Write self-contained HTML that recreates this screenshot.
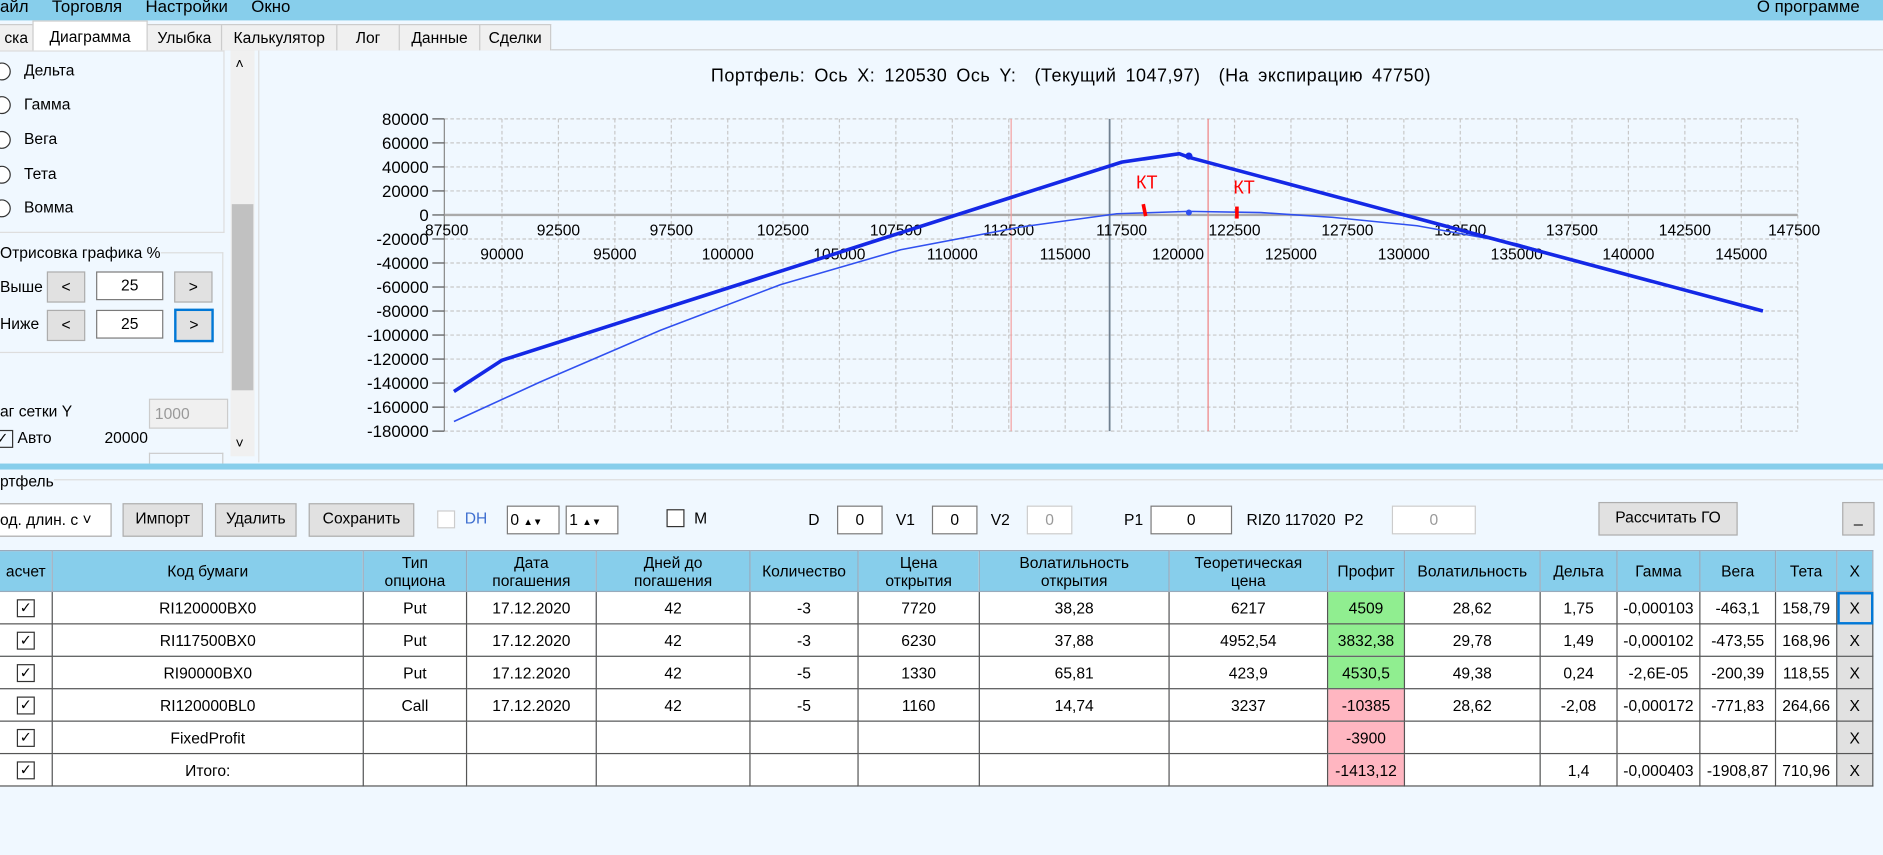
<!DOCTYPE html>
<html><head><meta charset="utf-8"><style>
html,body{margin:0;padding:0;overflow:hidden;background:#f0f8ff}
#w{position:absolute;left:0;top:0;width:1568px;height:712px;transform:scale(1.20089);transform-origin:0 0;font-family:"Liberation Sans","DejaVu Sans",sans-serif;font-size:13px;color:#000;background:#f0f8ff}
.a{position:absolute;white-space:nowrap}
.tab{position:absolute;top:20px;height:21px;border:1px solid #ccc;border-bottom:none;background:#f0f0f0;font-size:13px;line-height:21px;text-align:center}
.btn{position:absolute;background:#e1e1e1;border:1px solid #adadad;text-align:center;line-height:24px;height:24px}
.box{position:absolute;background:#fff;border:1px solid #7a7a7a;text-align:center;height:22px;line-height:22px}
table{position:absolute;left:-1px;top:458px;border-collapse:collapse;table-layout:fixed;font-size:13px}
td{border:1px solid #555;text-align:center;height:26px;padding:0;overflow:hidden;white-space:nowrap;background:#fff}
tr.h td{background:#87ceeb;height:33px;line-height:15px;border-color:#9ab}
.g{background:#90ee90!important}.r{background:#ffb6c1!important}
.cb{display:inline-block;width:13px;height:13px;border:1px solid #333;vertical-align:middle;font-size:12px;line-height:13px}
.rad{position:absolute;left:-6px;width:13px;height:13px;border:1px solid #333;border-radius:50%;background:#fff}
</style></head><body><div id="w">
<div class="a" style="left:0;top:0;width:1568px;height:17px;background:#87ceeb"></div>
<div class="a" style="left:0;top:-3px;font-size:14px">айл &nbsp;&nbsp;&nbsp;&nbsp;Торговля &nbsp;&nbsp;&nbsp;&nbsp;Настройки &nbsp;&nbsp;&nbsp;&nbsp;Окно</div>
<div class="a" style="left:1463px;top:-3px;font-size:14px">О программе</div>
<div class="a" style="left:0;top:41px;width:1568px;height:1px;background:#ccc"></div>
<div class="tab" style="left:-1px;width:27px">ска</div>
<div class="tab" style="left:27px;width:94px;top:17px;height:25px;background:#fff;line-height:25px">Диаграмма</div>
<div class="tab" style="left:122px;width:61px">Улыбка</div>
<div class="tab" style="left:184px;width:95px">Калькулятор</div>
<div class="tab" style="left:280px;width:51px">Лог</div>
<div class="tab" style="left:332px;width:66px">Данные</div>
<div class="tab" style="left:399px;width:58px">Сделки</div>
<div class="a" style="left:0;top:42px;width:186px;height:150px;border:1px solid #ddd;border-left:none;background:#f0f8ff"></div>
<div class="rad" style="top:52px"></div><div class="a" style="left:20px;top:51px">Дельта</div>
<div class="rad" style="top:80px"></div><div class="a" style="left:20px;top:79px">Гамма</div>
<div class="rad" style="top:109px"></div><div class="a" style="left:20px;top:108px">Вега</div>
<div class="rad" style="top:138px"></div><div class="a" style="left:20px;top:137px">Тета</div>
<div class="rad" style="top:166px"></div><div class="a" style="left:20px;top:165px">Вомма</div>
<div class="a" style="left:192px;top:42px;width:20px;height:338px;background:#f0f0f0"></div>
<div class="a" style="left:193px;top:170px;width:18px;height:155px;background:#c1c1c1"></div>
<div class="a" style="left:196px;top:46px;font-size:12px">&#708;</div>
<div class="a" style="left:196px;top:362px;font-size:12px">&#709;</div>
<div class="a" style="left:0;top:210px;width:185px;height:82px;border:1px solid #ddd;border-left:none"></div>
<div class="a" style="left:0;top:203px;background:#f0f8ff">Отрисовка графика %</div>
<div class="a" style="left:0;top:231px">Выше</div>
<div class="btn" style="left:39px;top:226px;width:30px">&lt;</div>
<div class="box" style="left:80px;top:226px;width:54px">25</div>
<div class="btn" style="left:145px;top:226px;width:30px">&gt;</div>
<div class="a" style="left:0;top:262px">Ниже</div>
<div class="btn" style="left:39px;top:258px;width:30px">&lt;</div>
<div class="box" style="left:80px;top:258px;width:54px">25</div>
<div class="btn" style="left:145px;top:257px;width:29px;border:2px solid #0078d7">&gt;</div>
<div class="a" style="left:0;top:335px">аг сетки Y</div>
<div class="a" style="left:124px;top:332px;width:60px;height:23px;border:1px solid #ccc;background:#f0f0f0;color:#999;line-height:23px;padding-left:4px">1000</div>
<div class="a" style="left:-4px;top:357px"><span class="cb">&#10003;</span> Авто</div>
<div class="a" style="left:87px;top:357px">20000</div>
<div class="a" style="left:124px;top:377px;width:60px;height:8px;border:1px solid #ccc;border-bottom:none"></div>
<div class="a" style="left:215px;top:42px;width:1353px;height:343px;background:#f0f8ff;border-left:1px solid #ddd"></div>
<div class="a" style="left:592px;top:55px;font-size:15px;letter-spacing:0.4px;word-spacing:3px">Портфель: Ось X: 120530 Ось Y: &nbsp;(Текущий 1047,97) &nbsp;(На экспирацию 47750)</div>
<svg class="a" style="left:0;top:0" width="1568" height="390" font-family="Liberation Sans,sans-serif" font-size="13">
<g stroke="#c8c8c8" stroke-dasharray="3,2" stroke-width="1">
<line x1="370" y1="99" x2="1497" y2="99"/><line x1="370" y1="119" x2="1497" y2="119"/><line x1="370" y1="139" x2="1497" y2="139"/><line x1="370" y1="159" x2="1497" y2="159"/><line x1="370" y1="199" x2="1497" y2="199"/><line x1="370" y1="219" x2="1497" y2="219"/><line x1="370" y1="239" x2="1497" y2="239"/><line x1="370" y1="259" x2="1497" y2="259"/><line x1="370" y1="279" x2="1497" y2="279"/><line x1="370" y1="299" x2="1497" y2="299"/><line x1="370" y1="319" x2="1497" y2="319"/><line x1="370" y1="339" x2="1497" y2="339"/><line x1="370" y1="359" x2="1497" y2="359"/>
<line x1="418" y1="99" x2="418" y2="359"/><line x1="465" y1="99" x2="465" y2="359"/><line x1="512" y1="99" x2="512" y2="359"/><line x1="559" y1="99" x2="559" y2="359"/><line x1="606" y1="99" x2="606" y2="359"/><line x1="652" y1="99" x2="652" y2="359"/><line x1="699" y1="99" x2="699" y2="359"/><line x1="746" y1="99" x2="746" y2="359"/><line x1="793" y1="99" x2="793" y2="359"/><line x1="840" y1="99" x2="840" y2="359"/><line x1="887" y1="99" x2="887" y2="359"/><line x1="934" y1="99" x2="934" y2="359"/><line x1="981" y1="99" x2="981" y2="359"/><line x1="1028" y1="99" x2="1028" y2="359"/><line x1="1075" y1="99" x2="1075" y2="359"/><line x1="1122" y1="99" x2="1122" y2="359"/><line x1="1169" y1="99" x2="1169" y2="359"/><line x1="1216" y1="99" x2="1216" y2="359"/><line x1="1263" y1="99" x2="1263" y2="359"/><line x1="1309" y1="99" x2="1309" y2="359"/><line x1="1356" y1="99" x2="1356" y2="359"/><line x1="1403" y1="99" x2="1403" y2="359"/><line x1="1450" y1="99" x2="1450" y2="359"/><line x1="1497" y1="99" x2="1497" y2="359"/>
</g>
<line x1="370" y1="99" x2="370" y2="359" stroke="#888"/>
<line x1="370" y1="179" x2="1497" y2="179" stroke="#aaa" stroke-width="2"/>
<line x1="842" y1="99" x2="842" y2="359" stroke="#f4a0a0"/>
<line x1="924" y1="99" x2="924" y2="359" stroke="#708090" stroke-width="1.5"/>
<line x1="1006" y1="99" x2="1006" y2="359" stroke="#f08080"/>
<g stroke="#555"><line x1="360" y1="99" x2="370" y2="99"/><line x1="360" y1="119" x2="370" y2="119"/><line x1="360" y1="139" x2="370" y2="139"/><line x1="360" y1="159" x2="370" y2="159"/><line x1="360" y1="179" x2="370" y2="179"/><line x1="360" y1="199" x2="370" y2="199"/><line x1="360" y1="219" x2="370" y2="219"/><line x1="360" y1="239" x2="370" y2="239"/><line x1="360" y1="259" x2="370" y2="259"/><line x1="360" y1="279" x2="370" y2="279"/><line x1="360" y1="299" x2="370" y2="299"/><line x1="360" y1="319" x2="370" y2="319"/><line x1="360" y1="339" x2="370" y2="339"/><line x1="360" y1="359" x2="370" y2="359"/></g>
<g text-anchor="end" font-size="14"><text x="357" y="104">80000</text><text x="357" y="124">60000</text><text x="357" y="144">40000</text><text x="357" y="164">20000</text><text x="357" y="184">0</text><text x="357" y="204">-20000</text><text x="357" y="224">-40000</text><text x="357" y="244">-60000</text><text x="357" y="264">-80000</text><text x="357" y="284">-100000</text><text x="357" y="304">-120000</text><text x="357" y="324">-140000</text><text x="357" y="344">-160000</text><text x="357" y="364">-180000</text></g>
<g text-anchor="middle"><text x="372" y="196">87500</text><text x="465" y="196">92500</text><text x="559" y="196">97500</text><text x="652" y="196">102500</text><text x="746" y="196">107500</text><text x="840" y="196">112500</text><text x="934" y="196">117500</text><text x="1028" y="196">122500</text><text x="1122" y="196">127500</text><text x="1216" y="196">132500</text><text x="1309" y="196">137500</text><text x="1403" y="196">142500</text><text x="1494" y="196">147500</text>
<text x="418" y="216">90000</text><text x="512" y="216">95000</text><text x="606" y="216">100000</text><text x="699" y="216">105000</text><text x="793" y="216">110000</text><text x="887" y="216">115000</text><text x="981" y="216">120000</text><text x="1075" y="216">125000</text><text x="1169" y="216">130000</text><text x="1263" y="216">135000</text><text x="1356" y="216">140000</text><text x="1450" y="216">145000</text></g>
<polyline points="378,351 450,318 550,275 650,237 750,208 850,189 930,178 990,176 1050,177 1110,181 1180,188 1263,203 1350,228 1468,259" fill="none" stroke="#3050f0" stroke-width="1.3" stroke-linejoin="round"/>
<polyline points="378,326 418,300 934,135 982,128 990,131 1468,259" fill="none" stroke="#1428e6" stroke-width="3"/>
<circle cx="990" cy="130" r="3" fill="#1428e6"/><circle cx="990" cy="177" r="2.5" fill="#3050f0"/>
<text x="946" y="157" fill="red" font-size="15">КТ</text><text x="1027" y="161" fill="red" font-size="15">КТ</text>
<path d="M952,170 l2,10" stroke="red" stroke-width="3"/><path d="M1030,172 l0,10" stroke="red" stroke-width="3"/>
</svg>
<div class="a" style="left:0;top:386px;width:1568px;height:5px;background:#87ceeb"></div>
<div class="a" style="left:0;top:399px;width:1568px;height:1px;background:#ddd"></div>
<div class="a" style="left:0;top:393px;background:#f0f8ff">ртфель</div>
<div class="a" style="left:-1px;top:419px;width:92px;height:26px;border:1px solid #aaa;background:#fff;line-height:26px">од. длин. с &#709;</div>
<div class="btn" style="left:102px;top:419px;width:65px;height:26px">Импорт</div>
<div class="btn" style="left:179px;top:419px;width:66px;height:26px">Удалить</div>
<div class="btn" style="left:257px;top:419px;width:86px;height:26px">Сохранить</div>
<div class="a" style="left:364px;top:425px;width:13px;height:13px;border:1px solid #ccc;background:#fff"></div>
<div class="a" style="left:387px;top:424px;color:#4070d0">DH</div>
<div class="box" style="left:422px;top:421px;width:40px;text-align:left;padding-left:2px">0 <span style="font-size:8px">&#9650;&#9660;</span></div>
<div class="box" style="left:471px;top:421px;width:40px;text-align:left;padding-left:2px">1 <span style="font-size:8px">&#9650;&#9660;</span></div>
<div class="a" style="left:555px;top:424px;width:13px;height:13px;border:1px solid #333;background:#fff"></div>
<div class="a" style="left:578px;top:424px">M</div>
<div class="a" style="left:673px;top:425px">D</div><div class="box" style="left:697px;top:421px;width:36px">0</div>
<div class="a" style="left:746px;top:425px">V1</div><div class="box" style="left:776px;top:421px;width:36px">0</div>
<div class="a" style="left:825px;top:425px">V2</div><div class="box" style="left:855px;top:421px;width:36px;border-color:#ccc;color:#999">0</div>
<div class="a" style="left:936px;top:425px">P1</div><div class="box" style="left:958px;top:421px;width:66px">0</div>
<div class="a" style="left:1038px;top:425px">RIZ0 117020 &nbsp;P2</div><div class="box" style="left:1159px;top:421px;width:68px;border-color:#ccc;color:#999">0</div>
<div class="btn" style="left:1331px;top:418px;width:114px;height:26px">Рассчитать ГО</div>
<div class="btn" style="left:1534px;top:418px;width:25px;height:26px">_</div>
<table>
<colgroup><col style="width:44px"><col style="width:259px"><col style="width:86px"><col style="width:108px"><col style="width:128px"><col style="width:90px"><col style="width:101px"><col style="width:158px"><col style="width:132px"><col style="width:64px"><col style="width:113px"><col style="width:64px"><col style="width:69px"><col style="width:63px"><col style="width:51px"><col style="width:30px"></colgroup>
<tr class="h"><td>асчет</td><td>Код бумаги</td><td>Тип<br>опциона</td><td>Дата<br>погашения</td><td>Дней до<br>погашения</td><td>Количество</td><td>Цена<br>открытия</td><td>Волатильность<br>открытия</td><td>Теоретическая<br>цена</td><td>Профит</td><td>Волатильность</td><td>Дельта</td><td>Гамма</td><td>Вега</td><td>Тета</td><td>X</td></tr>
<tr><td><span class="cb">&#10003;</span></td><td>RI120000BX0</td><td>Put</td><td>17.12.2020</td><td>42</td><td>-3</td><td>7720</td><td>38,28</td><td>6217</td><td class="g">4509</td><td>28,62</td><td>1,75</td><td>-0,000103</td><td>-463,1</td><td>158,79</td><td style="background:#e1e1e1;outline:2px solid #0078d7;outline-offset:-2px">X</td></tr>
<tr><td><span class="cb">&#10003;</span></td><td>RI117500BX0</td><td>Put</td><td>17.12.2020</td><td>42</td><td>-3</td><td>6230</td><td>37,88</td><td>4952,54</td><td class="g">3832,38</td><td>29,78</td><td>1,49</td><td>-0,000102</td><td>-473,55</td><td>168,96</td><td style="background:#e1e1e1">X</td></tr>
<tr><td><span class="cb">&#10003;</span></td><td>RI90000BX0</td><td>Put</td><td>17.12.2020</td><td>42</td><td>-5</td><td>1330</td><td>65,81</td><td>423,9</td><td class="g">4530,5</td><td>49,38</td><td>0,24</td><td>-2,6E-05</td><td>-200,39</td><td>118,55</td><td style="background:#e1e1e1">X</td></tr>
<tr><td><span class="cb">&#10003;</span></td><td>RI120000BL0</td><td>Call</td><td>17.12.2020</td><td>42</td><td>-5</td><td>1160</td><td>14,74</td><td>3237</td><td class="r">-10385</td><td>28,62</td><td>-2,08</td><td>-0,000172</td><td>-771,83</td><td>264,66</td><td style="background:#e1e1e1">X</td></tr>
<tr><td><span class="cb">&#10003;</span></td><td>FixedProfit</td><td></td><td></td><td></td><td></td><td></td><td></td><td></td><td class="r">-3900</td><td></td><td></td><td></td><td></td><td></td><td style="background:#e1e1e1">X</td></tr>
<tr><td><span class="cb">&#10003;</span></td><td>Итого:</td><td></td><td></td><td></td><td></td><td></td><td></td><td></td><td class="r">-1413,12</td><td></td><td>1,4</td><td>-0,000403</td><td>-1908,87</td><td>710,96</td><td style="background:#e1e1e1">X</td></tr>
</table>
</div></body></html>
